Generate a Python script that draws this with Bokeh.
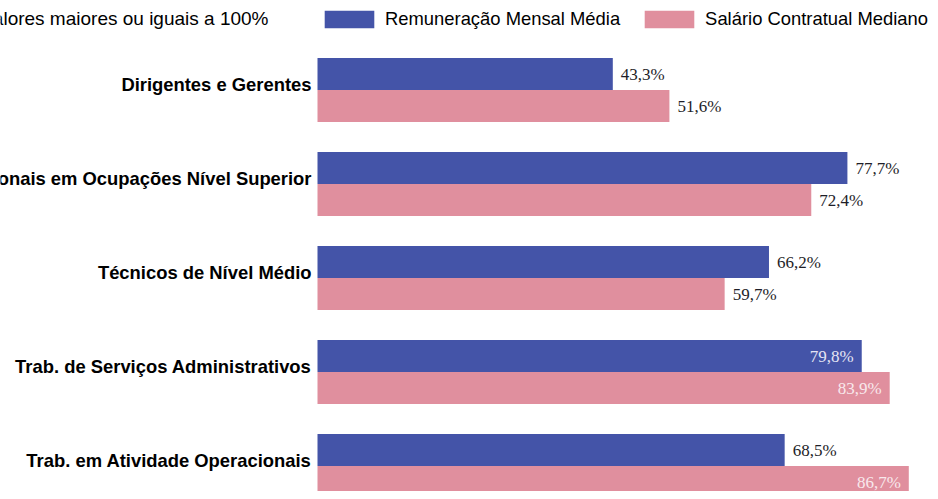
from bokeh.plotting import figure
from bokeh.models import ColumnDataSource, Range1d, Legend, LegendItem, Label
from bokeh.transform import dodge
from bokeh.core.properties import value
from bokeh.embed import file_html
from bokeh.resources import INLINE

# ---- data ----
categories = [
    "Dirigentes e Gerentes",
    "Profissionais em Ocupações Nível Superior",
    "Técnicos de Nível Médio",
    "Trab. de Serviços Administrativos",
    "Trab. em Atividade Operacionais",
]
remuneracao = [43.3, 77.7, 66.2, 79.8, 68.5]
salario = [51.6, 72.4, 59.7, 83.9, 86.7]
series_names = ["Remuneração Mensal Média", "Salário Contratual Mediano"]
note_text = "Valores maiores ou iguais a 100%"

# ---- style ----
BLUE = "#4454A8"
PINK = "#E08F9E"
W, H = 930, 491
PX_PER_UNIT = 6.82
X0_PX = 317
GROUP_PX = 94.0
G0_PX = 89.5
BAR_PX = 32

x_start = -X0_PX / PX_PER_UNIT
x_end = x_start + W / PX_PER_UNIT
y_top = -G0_PX / GROUP_PX
y_bottom = y_top + H / GROUP_PX
bar_h = BAR_PX / GROUP_PX
off = bar_h / 2

p = figure(width=W, height=H, output_backend="svg", toolbar_location=None,
           x_range=Range1d(x_start, x_end), y_range=Range1d(y_bottom, y_top),
           min_border=0, min_border_left=0, min_border_right=0,
           min_border_top=0, min_border_bottom=0)
p.axis.visible = False
p.grid.visible = False
p.outline_line_color = None
p.background_fill_color = "white"
p.border_fill_color = "white"

pos = list(range(len(categories)))

def fmt(v):
    return f"{v:.1f}%".replace(".", ",")

src_b = ColumnDataSource(dict(pos=pos, v=remuneracao, cat=categories))
src_p = ColumnDataSource(dict(pos=pos, v=salario, cat=categories))

rb = p.hbar(y=dodge("pos", -off, range=p.y_range), left=0, right="v", height=bar_h,
            source=src_b, fill_color=BLUE, line_color=None)
rp = p.hbar(y=dodge("pos", off, range=p.y_range), left=0, right="v", height=bar_h,
            source=src_p, fill_color=PINK, line_color=None)

# category labels
p.text(x=0, y="pos", text="cat", source=src_b, x_offset=-6, y_offset=-6,
       text_align="right", text_baseline="middle",
       text_font=value("Liberation Sans"), text_font_style="bold",
       text_font_size="18.4px", text_color="#000000")

# value labels
INSIDE = 79.0
for vals, shift, inside_color in ((remuneracao, -off, "#E4E4F4"), (salario, off, "#F8E8EC")):
    out_idx = [i for i, v in enumerate(vals) if v < INSIDE]
    in_idx = [i for i, v in enumerate(vals) if v >= INSIDE]
    s_out = ColumnDataSource(dict(pos=[pos[i] for i in out_idx], v=[vals[i] for i in out_idx],
                                  t=[fmt(vals[i]) for i in out_idx]))
    s_in = ColumnDataSource(dict(pos=[pos[i] for i in in_idx], v=[vals[i] for i in in_idx],
                                 t=[fmt(vals[i]) for i in in_idx]))
    p.text(x="v", y=dodge("pos", shift, range=p.y_range), text="t", source=s_out,
           x_offset=8, text_align="left", text_baseline="middle",
           text_font=value("Liberation Serif"), text_font_size="17px", text_color="#1E1E28")
    p.text(x="v", y=dodge("pos", shift, range=p.y_range), text="t", source=s_in,
           x_offset=-8, text_align="right", text_baseline="middle",
           text_font=value("Liberation Serif"), text_font_size="17px", text_color=inside_color)

# note (cut at left edge as in the original crop)
p.add_layout(Label(x=268, y=H - 18, x_units="screen", y_units="screen", text=note_text,
                   text_align="right", text_baseline="alphabetic",
                   text_font="Liberation Sans", text_font_size="19px", text_color="#000000"))

legend = Legend(items=[LegendItem(label=series_names[0], renderers=[rb]),
                       LegendItem(label=series_names[1], renderers=[rp])],
                orientation="horizontal", location=(318, H - 8 - 22),
                glyph_width=62, glyph_height=22, label_standoff=5, spacing=18,
                padding=0, margin=0, border_line_color=None, background_fill_alpha=0,
                label_text_font="Liberation Sans", label_text_font_size="18.4px",
                label_text_color="#000000", label_height=22)
p.add_layout(legend)

open("out.html", "w").write(file_html(p, INLINE))
